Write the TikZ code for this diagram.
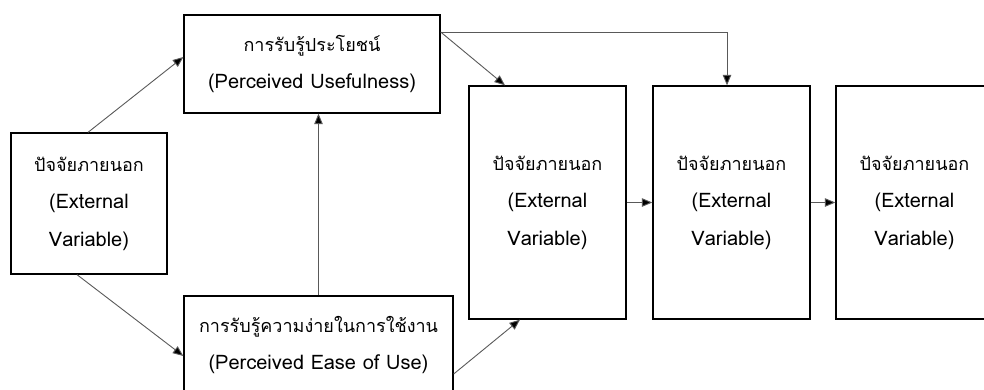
\documentclass[tikz,border=0pt]{standalone}
\usepackage{fontspec}
\newfontfamily\thai[Script=Thai]{Loma}
\newcommand\thline[1]{{\fontsize{18}{37.5}\selectfont #1}}
\usetikzlibrary{arrows.meta,calc}
\tikzset{
  box/.style={draw=black, line width=1.3pt, rectangle, inner sep=0pt,
    align=center, font={\thai\fontsize{20}{37.5}\selectfont}},
  link/.style={draw=black!65, line width=0.9pt,
    -{Triangle[length=10.5pt,width=8.5pt,fill=black]}},
}
\begin{document}
\begin{tikzpicture}[x=1pt,y=-1pt]
\useasboundingbox (0,0) rectangle (984,389);
\begin{scope}
\clip (0,0) rectangle (984,389);
% left input box
\node[box, minimum width=156pt, minimum height=141pt] (ext) at (89,203.5)
  {\thline{ปัจจัยภายนอก}\\(External\\Variable)};
% perceived usefulness
\node[box, minimum width=256pt, minimum height=98pt] (pu) at (312,64)
  {\thline{การรับรู้ประโยชน์}\\(Perceived Usefulness)};
% perceived ease of use
\node[box, minimum width=269pt, minimum height=98pt] (peou) at (318.5,345)
  {\thline{การรับรู้ความง่ายในการใช้งาน}\\(Perceived Ease of Use)};
% right chain of boxes
\node[box, minimum width=157pt, minimum height=233pt] (b3) at (547.5,202.5)
  {\thline{ปัจจัยภายนอก}\\(External\\Variable)};
\node[box, minimum width=157pt, minimum height=233pt] (b4) at (731.5,202.5)
  {\thline{ปัจจัยภายนอก}\\(External\\Variable)};
\node[box, minimum width=157pt, minimum height=233pt] (b5) at (914.5,202.5)
  {\thline{ปัจจัยภายนอก}\\(External\\Variable)};
\end{scope}

\coordinate (puout) at ([yshift=32pt]pu.east);
\coordinate (peouout) at ([yshift=-29pt]peou.east);

\draw[link] ([xshift=-1pt]ext.north) -- ([yshift=7pt]pu.west);
\draw[link] ([xshift=-12pt]ext.south) -- ([yshift=-11pt]peou.west);
\draw[link] (peou.north) -- (peou.north |- pu.south);
\draw[link] (puout) -- ([xshift=-42.5pt]b3.north);
\draw[link] (puout) -| ([xshift=-4.5pt]b4.north);
\draw[link] (peouout) -- ([xshift=-27.5pt]b3.south);
\draw[link] (b3.east) -- (b4.west);
\draw[link] (b4.east) -- (b5.west);
\end{tikzpicture}
\end{document}
